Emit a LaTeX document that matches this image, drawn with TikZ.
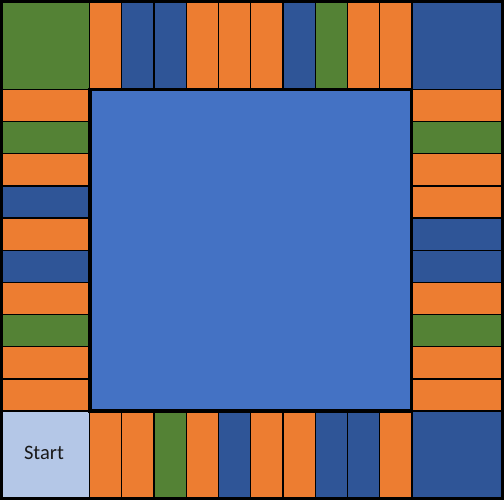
\documentclass[tikz,border=0pt]{standalone}
\usepackage{fontspec}
\setmainfont{Carlito}
\usepackage{tikz}
\definecolor{tileorange}{HTML}{ED7D31}
\definecolor{tileblue}{HTML}{2F5597}
\definecolor{tilegreen}{HTML}{548235}
\definecolor{boardblue}{HTML}{4472C4}
\definecolor{startblue}{HTML}{B4C7E7}

\begin{document}
\begin{tikzpicture}[
  x=1pt,y=-1pt,
  tile/.style={draw=black,line width=1.3pt},
  board/.style={draw=black,line width=3.5pt,fill=boardblue}
]
  \useasboundingbox[fill=black] (0,0) rectangle (504,500);
  % corners
  \filldraw[tile,fill=tilegreen] (2,2) rectangle (89.5,89.5);
  \filldraw[tile,fill=tileblue] (412,2) rectangle (502,89.5);
  \filldraw[tile,fill=startblue] (2,411) rectangle (89.5,498);
  \filldraw[tile,fill=tileblue] (412,411) rectangle (502,498);
  \node[font=\fontsize{20.5}{20.5}\selectfont,text=black!90] (start) at (44,452.5) {Start};
  % top and bottom rows
  \foreach \c [count=\i from 0] in {tileorange,tileblue,tileblue,tileorange,tileorange,tileorange,tileblue,tilegreen,tileorange,tileorange}
    \filldraw[tile,fill=\c] ({89.5+\i*32.25},2) rectangle ++(32.25,87.5);
  \foreach \c [count=\i from 0] in {tileorange,tileorange,tilegreen,tileorange,tileblue,tileorange,tileorange,tileblue,tileblue,tileorange}
    \filldraw[tile,fill=\c] ({89.5+\i*32.25},411) rectangle ++(32.25,87);
  % left and right columns
  \foreach \c [count=\i from 0] in {tileorange,tilegreen,tileorange,tileblue,tileorange,tileblue,tileorange,tilegreen,tileorange,tileorange}
    \filldraw[tile,fill=\c] (2,{89.5+\i*32.15}) rectangle ++(87.5,32.15);
  \foreach \c [count=\i from 0] in {tileorange,tilegreen,tileorange,tileorange,tileblue,tileblue,tileorange,tilegreen,tileorange,tileorange}
    \filldraw[tile,fill=\c] (412,{89.5+\i*32.15}) rectangle ++(90,32.15);
  % centre
  \filldraw[board] (90,89.5) rectangle (411.5,411);
\end{tikzpicture}
\end{document}
